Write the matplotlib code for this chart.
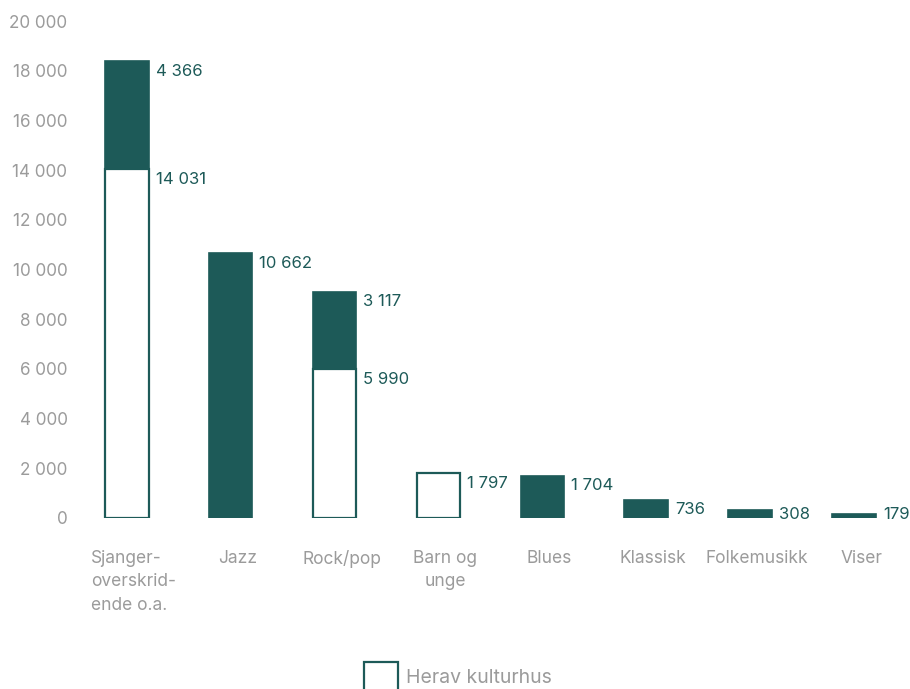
import matplotlib
matplotlib.use('Agg')
import matplotlib.pyplot as plt
import matplotlib.transforms as mtransforms
from matplotlib.patches import Patch

plt.rcParams['font.family'] = ['Inter', 'DejaVu Sans']

categories = ['Sjanger-\noverskrid-\nende o.a.', 'Jazz', 'Rock/pop', 'Barn og\nunge',
              'Blues', 'Klassisk', 'Folkemusikk', 'Viser']
kulturhus = [14031, 0, 5990, 1797, 0, 0, 0, 0]
andre = [4366, 10662, 3117, 0, 1704, 736, 308, 179]
yticks = [0, 2000, 4000, 6000, 8000, 10000, 12000, 14000, 16000, 18000, 20000]

green = '#1d5a58'
grey = '#9b9b9b'


def fmt(v):
    return '{:,}'.format(v).replace(',', ' ')


fig = plt.figure(figsize=(9.1, 6.89), dpi=100)
ax = fig.add_axes([80 / 910, 1 - 518 / 689, (905 - 80) / 910, (518 - 21) / 689])

x = list(range(len(categories)))
w = 0.42
ax.bar(x, kulturhus, width=w, color='white', edgecolor=green, linewidth=1.6)
ax.bar(x, andre, width=w, bottom=kulturhus, color=green, edgecolor=green, linewidth=1.2)

for i in x:
    # label for the top (filled) segment, then kulturhus segment
    if andre[i] > 0:
        top = kulturhus[i] + andre[i]
        ax.annotate(fmt(andre[i]), (i + w / 2, max(top, 560)), xytext=(5, -2),
                    textcoords='offset points', ha='left', va='top',
                    color=green, fontsize=12, annotation_clip=False)
    if kulturhus[i] > 0:
        ax.annotate(fmt(kulturhus[i]), (i + w / 2, kulturhus[i]), xytext=(5, -2),
                    textcoords='offset points', ha='left', va='top',
                    color=green, fontsize=12, annotation_clip=False)

ax.set_xlim(-0.45, 7.49)
ax.set_ylim(0, 20000)
ax.set_yticks(yticks)
ax.set_yticklabels([fmt(v) for v in yticks])
ax.set_xticks(x)
ax.set_xticklabels(categories, linespacing=1.5)
ax.get_xticklabels()[0].set_multialignment('left')
ax.tick_params(axis='y', length=0, pad=9, labelcolor=grey, labelsize=12.3)
ax.tick_params(axis='x', length=0, pad=23, labelcolor=grey, labelsize=12.5)
shift = mtransforms.ScaledTranslation(7 / 100, 0, fig.dpi_scale_trans)
for lab in ax.get_xticklabels():
    lab.set_transform(lab.get_transform() + shift)
for s in ax.spines.values():
    s.set_visible(False)

handle = Patch(facecolor='white', edgecolor=green, linewidth=1.6)
fig.legend([handle], ['Herav kulturhus'], loc='lower center',
           bbox_to_anchor=(0.503, -0.03), frameon=False, fontsize=14,
           handlelength=1.75, handleheight=2.0, handletextpad=0.4,
           labelcolor=grey)

fig.savefig('out.png', dpi=100)
